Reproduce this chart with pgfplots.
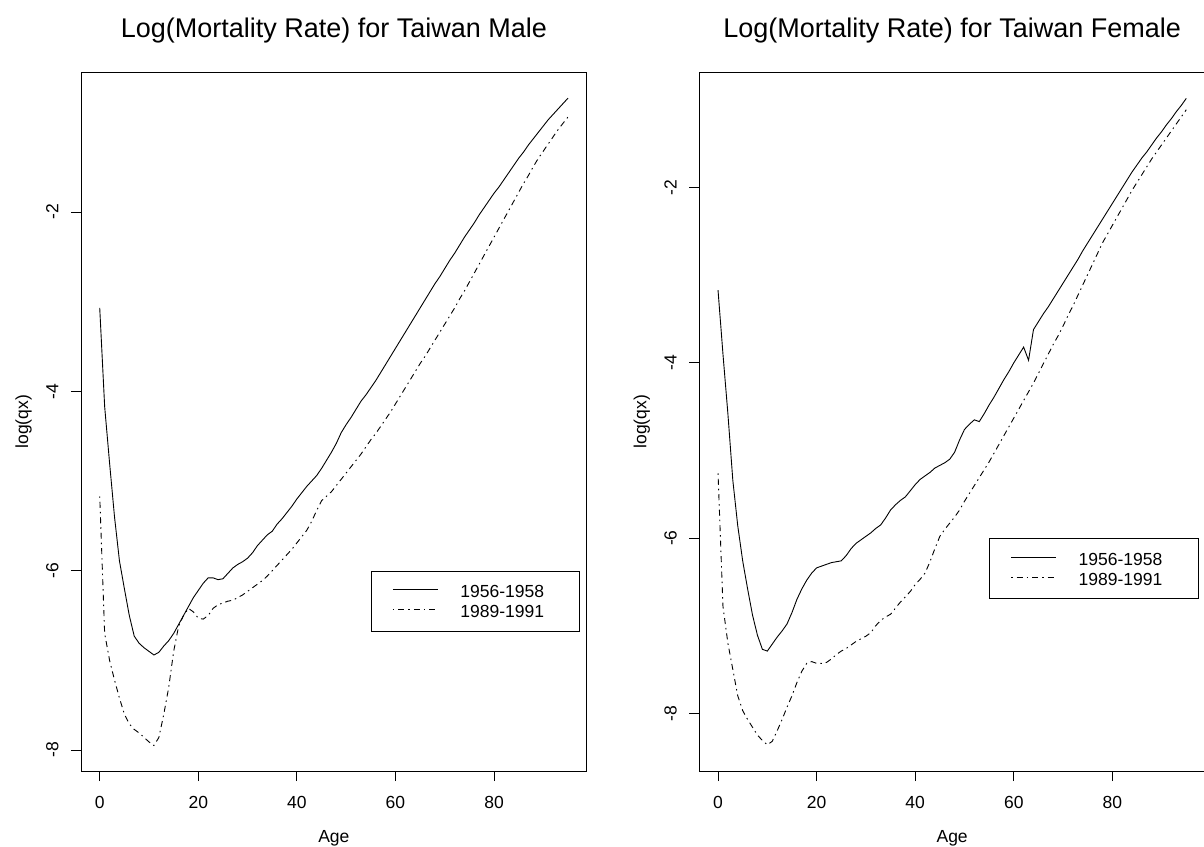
\documentclass[border=0pt]{standalone}
\usepackage{fontspec}
\setmainfont{Liberation Sans}
\usepackage{pgfplots}
\pgfplotsset{compat=1.18}
\usepackage{pgfplotstable}

\pgfplotstableread{
age v
0 -3.07
1 -4.17
2 -4.80
3 -5.40
4 -5.89
5 -6.20
6 -6.50
7 -6.73
8 -6.81
9 -6.86
10 -6.90
11 -6.94
12 -6.91
13 -6.84
14 -6.78
15 -6.70
16 -6.60
17 -6.50
18 -6.40
19 -6.30
20 -6.22
21 -6.14
22 -6.08
23 -6.08
24 -6.10
25 -6.09
26 -6.03
27 -5.97
28 -5.93
29 -5.90
30 -5.86
31 -5.80
32 -5.72
33 -5.66
34 -5.60
35 -5.56
36 -5.48
37 -5.42
38 -5.35
39 -5.28
40 -5.20
41 -5.13
42 -5.06
43 -5.00
44 -4.94
45 -4.86
46 -4.77
47 -4.68
48 -4.58
49 -4.46
50 -4.37
51 -4.29
52 -4.20
53 -4.11
54 -4.04
55 -3.96
56 -3.88
57 -3.79
58 -3.70
59 -3.61
60 -3.52
61 -3.43
62 -3.34
63 -3.25
64 -3.16
65 -3.07
66 -2.98
67 -2.89
68 -2.80
69 -2.72
70 -2.63
71 -2.54
72 -2.46
73 -2.37
74 -2.28
75 -2.20
76 -2.12
77 -2.03
78 -1.95
79 -1.87
80 -1.79
81 -1.72
82 -1.64
83 -1.56
84 -1.48
85 -1.40
86 -1.33
87 -1.25
88 -1.18
89 -1.11
90 -1.04
91 -0.97
92 -0.91
93 -0.85
94 -0.79
95 -0.73
}\maleA

\pgfplotstableread{
age v
0 -5.17
1 -6.70
2 -7.00
3 -7.22
4 -7.42
5 -7.60
6 -7.71
7 -7.77
8 -7.81
9 -7.86
10 -7.91
11 -7.95
12 -7.86
13 -7.60
14 -7.30
15 -6.90
16 -6.62
17 -6.50
18 -6.42
19 -6.46
20 -6.53
21 -6.54
22 -6.50
23 -6.42
24 -6.38
25 -6.36
26 -6.34
27 -6.33
28 -6.30
29 -6.27
30 -6.23
31 -6.19
32 -6.15
33 -6.11
34 -6.06
35 -6.00
36 -5.94
37 -5.88
38 -5.82
39 -5.76
40 -5.69
41 -5.62
42 -5.55
43 -5.45
44 -5.33
45 -5.22
46 -5.17
47 -5.12
48 -5.05
49 -4.98
50 -4.91
51 -4.84
52 -4.77
53 -4.70
54 -4.62
55 -4.54
56 -4.47
57 -4.39
58 -4.31
59 -4.23
60 -4.14
61 -4.05
62 -3.96
63 -3.87
64 -3.78
65 -3.69
66 -3.61
67 -3.52
68 -3.43
69 -3.34
70 -3.25
71 -3.16
72 -3.07
73 -2.97
74 -2.88
75 -2.78
76 -2.68
77 -2.58
78 -2.48
79 -2.38
80 -2.28
81 -2.18
82 -2.08
83 -1.98
84 -1.88
85 -1.78
86 -1.68
87 -1.59
88 -1.49
89 -1.40
90 -1.32
91 -1.24
92 -1.16
93 -1.08
94 -1.01
95 -0.94
}\maleB

\pgfplotstableread{
age v
0 -3.17
1 -3.90
2 -4.58
3 -5.34
4 -5.86
5 -6.26
6 -6.58
7 -6.88
8 -7.11
9 -7.27
10 -7.29
11 -7.21
12 -7.13
13 -7.06
14 -6.98
15 -6.85
16 -6.70
17 -6.58
18 -6.48
19 -6.40
20 -6.34
21 -6.32
22 -6.30
23 -6.28
24 -6.27
25 -6.26
26 -6.20
27 -6.12
28 -6.06
29 -6.02
30 -5.98
31 -5.94
32 -5.89
33 -5.85
34 -5.77
35 -5.68
36 -5.62
37 -5.57
38 -5.53
39 -5.46
40 -5.39
41 -5.33
42 -5.29
43 -5.25
44 -5.20
45 -5.17
46 -5.14
47 -5.10
48 -5.02
49 -4.88
50 -4.76
51 -4.70
52 -4.65
53 -4.67
54 -4.58
55 -4.48
56 -4.39
57 -4.29
58 -4.19
59 -4.10
60 -4.00
61 -3.91
62 -3.82
63 -3.97
64 -3.62
65 -3.53
66 -3.44
67 -3.36
68 -3.27
69 -3.18
70 -3.09
71 -3.00
72 -2.91
73 -2.82
74 -2.72
75 -2.63
76 -2.54
77 -2.45
78 -2.36
79 -2.27
80 -2.18
81 -2.09
82 -2.00
83 -1.91
84 -1.82
85 -1.74
86 -1.66
87 -1.59
88 -1.51
89 -1.43
90 -1.36
91 -1.28
92 -1.21
93 -1.13
94 -1.06
95 -0.98
}\femaleA

\pgfplotstableread{
age v
0 -5.26
1 -6.78
2 -7.20
3 -7.50
4 -7.80
5 -7.97
6 -8.07
7 -8.16
8 -8.25
9 -8.31
10 -8.36
11 -8.32
12 -8.20
13 -8.07
14 -7.93
15 -7.80
16 -7.65
17 -7.52
18 -7.43
19 -7.41
20 -7.43
21 -7.43
22 -7.42
23 -7.38
24 -7.33
25 -7.29
26 -7.26
27 -7.22
28 -7.18
29 -7.15
30 -7.12
31 -7.08
32 -7.00
33 -6.94
34 -6.90
35 -6.87
36 -6.80
37 -6.73
38 -6.67
39 -6.61
40 -6.53
41 -6.47
42 -6.40
43 -6.27
44 -6.12
45 -5.98
46 -5.90
47 -5.83
48 -5.76
49 -5.68
50 -5.58
51 -5.49
52 -5.40
53 -5.31
54 -5.22
55 -5.13
56 -5.03
57 -4.93
58 -4.83
59 -4.73
60 -4.63
61 -4.53
62 -4.43
63 -4.33
64 -4.23
65 -4.12
66 -4.01
67 -3.90
68 -3.79
69 -3.69
70 -3.58
71 -3.46
72 -3.35
73 -3.23
74 -3.11
75 -2.99
76 -2.87
77 -2.75
78 -2.63
79 -2.53
80 -2.43
81 -2.33
82 -2.23
83 -2.13
84 -2.03
85 -1.94
86 -1.85
87 -1.76
88 -1.67
89 -1.59
90 -1.51
91 -1.43
92 -1.35
93 -1.27
94 -1.19
95 -1.11
}\femaleB

\newcommand{\lblfont}{\fontsize{17.5}{17.5}\selectfont}
\newcommand{\ttlfont}{\fontsize{27}{27}\selectfont}

\pgfplotsset{
  rpanel/.style={
    scale only axis,
    width=505.7pt, height=698.3pt,
    xmin=-3.8, xmax=98.8,
    axis line style={line width=0.9pt, black},
    every tick/.style={black, line width=0.9pt},
    tick align=outside,
    major tick length=10pt,
    xtick={0,20,40,60,80},
    ytick={-8,-6,-4,-2},
    xtick pos=bottom, ytick pos=left,
    minor tick num=0,
    /pgf/number format/assume math mode=true,
    tick label style={font=\lblfont},
    xticklabel style={anchor=base, inner sep=0pt},
    yticklabel style={rotate=90, anchor=base, inner sep=0pt},
    xticklabel shift=27.3pt,
    yticklabel shift=12.7pt,
    every axis title/.style={at={(axis description cs:0.5,1.0511)}, anchor=base, font=\ttlfont},
    every axis x label/.style={at={(axis description cs:0.5,-0.1024)}, anchor=base, font=\lblfont},
    every axis y label/.style={at={(axis description cs:-0.1048,0.5)}, rotate=90, anchor=base, font=\lblfont},
    xlabel={Age}, ylabel={log(qx)},
    legend cell align=left,
    legend image code/.code={\draw[##1, line width=0.9pt] (0pt,1.7pt) -- (45pt,1.7pt); \path (67pt,0pt);},
    legend style={anchor=north west, draw=black, line width=0.9pt, fill=white,
      inner xsep=21pt, inner ysep=10pt, row sep=0pt, column sep=0pt,
      nodes={inner sep=0pt, text height=16.6pt, text depth=3.4pt, font=\lblfont},
      cells={anchor=west}},
  },
  solidln/.style={black, line width=0.9pt, solid},
  dashln/.style={black, line width=0.9pt, dash pattern=on 1.5pt off 4pt on 6pt off 4pt},
}

\begin{document}
\begin{tikzpicture}
\useasboundingbox (0pt,0pt) rectangle (1204pt,846pt);
\begin{axis}[rpanel, at={(81pt,75pt)}, anchor=south west,
  ymin=-8.234, ymax=-0.446,
  title={Log(Mortality Rate) for Taiwan Male},
  legend style={at={(rel axis cs:0.5735,0.2868)}}]
\addplot[solidln] table[x=age,y=v] {\maleA};
\addlegendentry{\makebox[98.3pt][l]{1956-1958}}
\addplot[dashln] table[x=age,y=v] {\maleB};
\addlegendentry{\makebox[98.3pt][l]{1989-1991}}
\end{axis}
\begin{axis}[rpanel, at={(699.3pt,75pt)}, anchor=south west,
  ymin=-8.659, ymax=-0.687,
  title={Log(Mortality Rate) for Taiwan Female},
  legend style={at={(rel axis cs:0.5735,0.3332)}}]
\addplot[solidln] table[x=age,y=v] {\femaleA};
\addlegendentry{\makebox[98.3pt][l]{1956-1958}}
\addplot[dashln] table[x=age,y=v] {\femaleB};
\addlegendentry{\makebox[98.3pt][l]{1989-1991}}
\end{axis}
\end{tikzpicture}
\end{document}
